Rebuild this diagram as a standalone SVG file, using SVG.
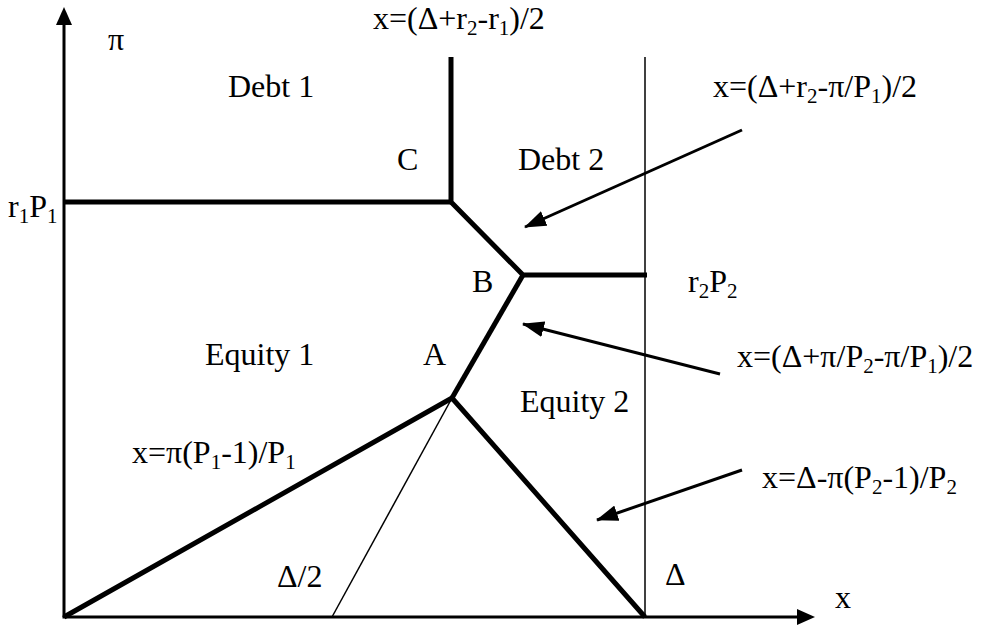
<svg xmlns="http://www.w3.org/2000/svg" width="981" height="632" viewBox="0 0 981 632">
  <defs>
    <style>
      text { font-family: "Liberation Serif", "Times New Roman", serif; font-size: 32px; fill: #000; }
      .sub { font-size: 21px; }
      .axis { stroke: #000; stroke-width: 3; fill: none; }
      .thick { stroke: #000; stroke-width: 5; fill: none; stroke-linejoin: miter; }
      .thin { stroke: #000; stroke-width: 1.5; fill: none; }
      .ptr { stroke: #000; stroke-width: 3; fill: none; marker-end: url(#ah); }
    </style>
    <marker id="ah" viewBox="0 0 22 16" markerWidth="22" markerHeight="16" refX="21" refY="8" orient="auto" markerUnits="userSpaceOnUse">
      <path d="M0,0 L22,8 L0,16 z" fill="#000"/>
    </marker>
  </defs>
  <rect width="981" height="632" fill="#fff"/>

  <g id="axes">
    <line class="axis" x1="64" y1="617" x2="64" y2="22"/>
    <polygon points="64,7 56,25 72,25" fill="#000"/>
    <line class="axis" x1="62.5" y1="617" x2="800" y2="617"/>
    <polygon points="815,617 797,609 797,625" fill="#000"/>
  </g>

  <g id="boundaries">
    <line class="thin" x1="645" y1="57" x2="645" y2="617"/>
    <line class="thin" x1="452" y1="398" x2="332" y2="617"/>
    <polyline class="thick" points="64,202 451,202"/>
    <polyline class="thick" points="451,57 451,202 523,275 647,275"/>
    <polyline class="thick" points="523,275 452,398"/>
    <polyline class="thick" points="64,617 452,398 645,617"/>
  </g>

  <g id="connectors">
    <line class="ptr" x1="742" y1="130" x2="525" y2="227"/>
    <line class="ptr" x1="720" y1="374" x2="523" y2="324"/>
    <line class="ptr" x1="742" y1="470" x2="597" y2="520"/>
  </g>

  <g id="labels">
    <text x="108" y="50">π</text>
    <text x="228" y="97">Debt 1</text>
    <text x="373" y="29">x=(Δ+r<tspan class="sub" dy="6">2</tspan><tspan dy="-6">-r</tspan><tspan class="sub" dy="6">1</tspan><tspan dy="-6">)/2</tspan></text>
    <text x="397" y="170">C</text>
    <text x="518" y="170">Debt 2</text>
    <text x="713" y="97">x=(Δ+r<tspan class="sub" dy="6">2</tspan><tspan dy="-6">-π/P</tspan><tspan class="sub" dy="6">1</tspan><tspan dy="-6">)/2</tspan></text>
    <text x="8" y="217">r<tspan class="sub" dy="6">1</tspan><tspan dy="-6">P</tspan><tspan class="sub" dy="6">1</tspan></text>
    <text x="472" y="292">B</text>
    <text x="688" y="292">r<tspan class="sub" dy="6">2</tspan><tspan dy="-6">P</tspan><tspan class="sub" dy="6">2</tspan></text>
    <text x="205" y="365">Equity 1</text>
    <text x="423" y="365">A</text>
    <text x="737" y="367">x=(Δ+π/P<tspan class="sub" dy="6">2</tspan><tspan dy="-6">-π/P</tspan><tspan class="sub" dy="6">1</tspan><tspan dy="-6">)/2</tspan></text>
    <text x="520" y="412">Equity 2</text>
    <text x="132" y="463">x=π(P<tspan class="sub" dy="6">1</tspan><tspan dy="-6">-1)/P</tspan><tspan class="sub" dy="6">1</tspan></text>
    <text x="762" y="488">x=Δ-π(P<tspan class="sub" dy="6">2</tspan><tspan dy="-6">-1)/P</tspan><tspan class="sub" dy="6">2</tspan></text>
    <text x="277" y="587">Δ/2</text>
    <text x="665" y="585">Δ</text>
    <text x="835" y="608">x</text>
  </g>
</svg>
